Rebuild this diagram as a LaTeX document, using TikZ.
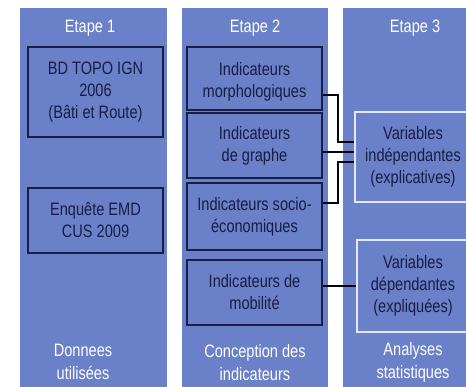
\documentclass[tikz,border=0pt]{standalone}
\usepackage{fontspec}
\setmainfont{Liberation Sans}[FakeStretch=0.81]
\definecolor{colblue}{RGB}{106,128,200}
\definecolor{navy}{RGB}{22,32,70}
\definecolor{paleline}{RGB}{225,232,248}
\definecolor{boxtext}{RGB}{22,30,68}
\begin{document}
\begin{tikzpicture}[x=1pt,y=-1pt,
  column/.style={fill=colblue,draw=none},
  inbox/.style={draw=navy,line width=2.3pt,fill=colblue},
  outbox/.style={draw=paleline,line width=2.3pt,fill=colblue},
  boxtxt/.style={text=boxtext,align=center,font=\fontsize{18}{22}\selectfont,inner sep=0pt},
  titletxt/.style={text=white,align=center,font=\fontsize{18}{23}\selectfont,inner sep=0pt},
  link/.style={draw=black!85!navy,line width=2.4pt}]
\clip (0,0) rectangle (466,386);
\useasboundingbox (0,0) rectangle (466,386);
\fill[white] (0,0) rectangle (466,386);
% columns
\fill[column] (20,8) rectangle (167,390);
\fill[column] (182,8) rectangle (328,390);
\fill[column] (343,8) rectangle (480,390);
% titles
\node[titletxt] (t1) at (90,28) {Etape 1};
\node[titletxt] (t2) at (255,28) {Etape 2};
\node[titletxt] (t3) at (415,28) {Etape 3};
% column 1 boxes
\draw[inbox] (28,47) rectangle (163,137);
\node[boxtxt] (bd) at (95.5,92) {BD TOPO IGN\\2006\\(Bâti et Route)};
\draw[inbox] (28,188) rectangle (163,253);
\node[boxtxt] (emd) at (95.5,220.5) {Enquête EMD\\CUS 2009};
% column 2 boxes
\draw[inbox] (187,47) rectangle (322,110);
\node[boxtxt] (morpho) at (254.5,82) {Indicateurs\\morphologiques};
\draw[inbox] (187,113) rectangle (322,178);
\node[boxtxt] (graphe) at (254.5,146) {Indicateurs\\de graphe};
\draw[inbox] (187,183) rectangle (322,250);
\node[boxtxt] (socio) at (254.5,216.5) {Indicateurs socio-\\économiques};
\draw[inbox] (187,260) rectangle (322,325);
\node[boxtxt] (mob) at (254.5,292.5) {Indicateurs de\\mobilité};
% column 3 boxes
\draw[outbox] (355,112) rectangle (472,202);
\node[boxtxt] (indep) at (413,157) {Variables\\indépendantes\\(explicatives)};
\draw[outbox] (357,240) rectangle (472,332);
\node[boxtxt] (dep) at (413,286) {Variables\\dépendantes\\(expliquées)};
% bottom labels
\node[titletxt] (b1) at (83,361.5) {Donnees\\utilisées};
\node[titletxt] (b2) at (255,362.5) {Conception des\\indicateurs};
\node[titletxt] (b3) at (413,362.5) {Analyses\\statistiques};
% connectors
\coordinate (m0) at (323,95);
\coordinate (m1) at (354,142);
\coordinate (g0) at (323,152);
\coordinate (g1) at (354,152);
\coordinate (s0) at (323,203);
\coordinate (s1) at (354,162);
\coordinate (d0) at (323,286);
\coordinate (d1) at (356,286);
\draw[link] (m0) -| (338,142) -- (m1);
\draw[link] (g0) -- (g1);
\draw[link] (s0) -| (338,162) -- (s1);
\draw[link] (d0) -- (d1);
\end{tikzpicture}
\end{document}
